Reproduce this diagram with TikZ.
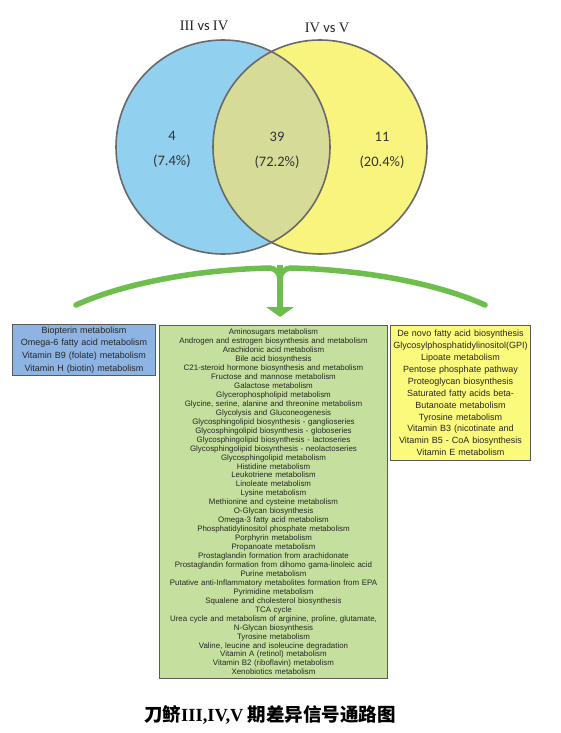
\documentclass[tikz,border=0pt]{standalone}
\usepackage{fontspec}
\setmainfont{Liberation Sans}
\newfontfamily\calib{Carlito}
\newfontfamily\serifnum{Liberation Serif}
\newfontfamily\cjk{Noto Sans CJK SC}
\definecolor{cblue}{RGB}{146,208,240}
\definecolor{cyellow}{RGB}{249,244,126}
\definecolor{coverlap}{RGB}{214,220,152}
\definecolor{ccirc}{RGB}{105,105,105}
\definecolor{bbox}{RGB}{142,180,227}
\definecolor{gbox}{RGB}{197,224,158}
\definecolor{ybox}{RGB}{252,250,125}
\definecolor{arrowgreen}{RGB}{110,190,78}
\tikzset{
  circ/.style={draw=ccirc, line width=1.6pt},
  vlabel/.style={font=\calib\fontsize{14.5}{18}\selectfont, text=black!85, inner sep=0pt},
  numlabel/.style={font=\calib\fontsize{14.5}{25}\selectfont, align=center, text=black!80, inner sep=0pt},
  listbox/.style={draw=black!65, line width=1pt, align=center, inner xsep=2pt, inner ysep=0pt, text=black!85, anchor=north west},
  bracket/.style={draw=arrowgreen, line width=5.5pt, line cap=round},
}
\begin{document}
\begin{tikzpicture}[x=1pt,y=-1pt]
\useasboundingbox[fill=white] (0,0) rectangle (560,733);
% Venn
\fill[cblue] (223,147) circle[radius=107pt];
\fill[cyellow] (320,147) circle[radius=107pt];
\begin{scope}
  \clip (223,147) circle[radius=107pt];
  \fill[coverlap] (320,147) circle[radius=107pt];
\end{scope}
\draw[circ] (223,147) circle[radius=107pt];
\draw[circ] (320,147) circle[radius=107pt];
\node[vlabel] (lab1) at (204,26) {{\serifnum III} vs {\serifnum IV}};
\node[vlabel] (lab2) at (327,28) {{\serifnum IV} vs {\serifnum V}};
\node[numlabel] (n1) at (172,149) {4\\(7.4\%)};
\node[numlabel] (n2) at (277,150) {39\\(72.2\%)};
\node[numlabel] (n3) at (382,150) {11\\(20.4\%)};
% bracket
\coordinate (bl) at (76,305);
\coordinate (br) at (485,305);
\coordinate (jl) at (269,268);
\coordinate (jr) at (291,268);
\coordinate (jt) at (280,265.3);
\coordinate (stem) at (280,279);
\coordinate (tip) at (280,317);
\draw[bracket] (bl) .. controls (120,285) and (190,270) .. (jl) to[out=0,in=90] (stem);
\draw[bracket] (br) .. controls (441,285) and (370,270) .. (jr) to[out=180,in=90] (stem);
\draw[draw=arrowgreen, line width=6.5pt] (jt) -- (280,309);
\fill[arrowgreen] (266,307) -- (294,307) -- (tip) -- cycle;
% boxes
\node[listbox, fill=bbox, text width=139pt, minimum height=51pt, font=\fontsize{9}{12.7}\selectfont] (blue) at (12,324)
{Biopterin metabolism\\Omega-6 fatty acid metabolism\\Vitamin B9 (folate) metabolism\\Vitamin H (biotin) metabolism};
\node[listbox, fill=gbox, text width=224pt, minimum height=353pt, font=\fontsize{7.9}{8.95}\selectfont] (green) at (159,325)
{Aminosugars metabolism\\
Androgen and estrogen biosynthesis and metabolism\\
Arachidonic acid metabolism\\
Bile acid biosynthesis\\
C21-steroid hormone biosynthesis and metabolism\\
Fructose and mannose metabolism\\
Galactose metabolism\\
Glycerophospholipid metabolism\\
Glycine, serine, alanine and threonine metabolism\\
Glycolysis and Gluconeogenesis\\
Glycosphingolipid biosynthesis - ganglioseries\\
Glycosphingolipid biosynthesis - globoseries\\
Glycosphingolipid biosynthesis - lactoseries\\
Glycosphingolipid biosynthesis - neolactoseries\\
Glycosphingolipid metabolism\\
Histidine metabolism\\
Leukotriene metabolism\\
Linoleate metabolism\\
Lysine metabolism\\
Methionine and cysteine metabolism\\
O-Glycan biosynthesis\\
Omega-3 fatty acid metabolism\\
Phosphatidylinositol phosphate metabolism\\
Porphyrin metabolism\\
Propanoate metabolism\\
Prostaglandin formation from arachidonate\\
Prostaglandin formation from dihomo gama-linoleic acid\\
Purine metabolism\\
Putative anti-Inflammatory metabolites formation from EPA\\
Pyrimidine metabolism\\
Squalene and cholesterol biosynthesis\\
TCA cycle\\
Urea cycle and metabolism of arginine, proline, glutamate,\\
N-Glycan biosynthesis\\
Tyrosine metabolism\\
Valine, leucine and isoleucine degradation\\
Vitamin A (retinol) metabolism\\
Vitamin B2 (riboflavin) metabolism\\
Xenobiotics metabolism};
\node[listbox, fill=ybox, text width=136pt, minimum height=135pt, font=\fontsize{9}{11.9}\selectfont] (yellow) at (390,325)
{De novo fatty acid biosynthesis\\
Glycosylphosphatidylinositol(GPI)\\
Lipoate metabolism\\
Pentose phosphate pathway\\
Proteoglycan biosynthesis\\
Saturated fatty acids beta-\\
Butanoate metabolism\\
Tyrosine metabolism\\
Vitamin B3 (nicotinate and\\
Vitamin B5 - CoA biosynthesis\\
Vitamin E metabolism};
% title
\node[inner sep=0pt, font=\cjk\bfseries\fontsize{18.5}{20}\selectfont] (title) at (270,715)
{刀鲚{\serifnum\bfseries III,IV,V} 期差异信号通路图};
\end{tikzpicture}
\end{document}
